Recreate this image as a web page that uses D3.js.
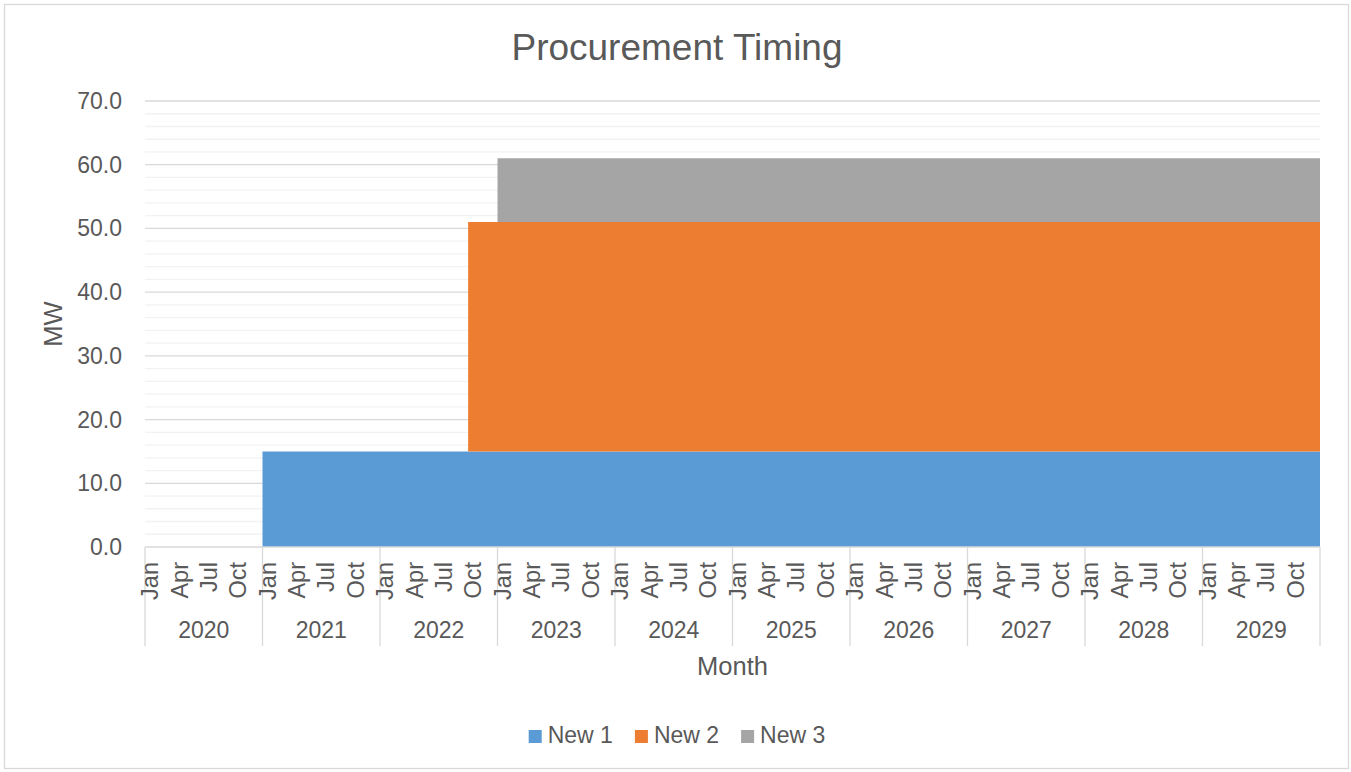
<!DOCTYPE html>
<html lang="en">
<head>
  <meta charset="UTF-8" />
  <title>Procurement Timing</title>
  <script src="https://d3js.org/d3.v7.min.js"></script>
  <style>
    body { margin: 0; background: #fff; }
    text { font-family: "Liberation Sans", Arial, sans-serif; fill: #595959; }
  </style>
</head>
<body>
  <div id="chart"></div>
  <script>
    // data
    const years = [2020, 2021, 2022, 2023, 2024, 2025, 2026, 2027, 2028, 2029];
    const monthNames = ["Jan", "Feb", "Mar", "Apr", "May", "Jun", "Jul", "Aug", "Sep", "Oct", "Nov", "Dec"];
    const shownMonths = ["Jan", "Apr", "Jul", "Oct"];
    const seriesNames = ["New 1", "New 2", "New 3"];
    const seriesStart = ["2021-Jan", "2022-Oct", "2023-Jan"];
    const seriesMW = [15, 36, 10];
    const colors = ["#5b9bd5", "#ed7d31", "#a5a5a5"];
    const yTicks = [0, 10, 20, 30, 40, 50, 60, 70];

    const width = 1351, height = 772;
    const margin = { left: 145, right: 1320, top: 101, bottom: 547 };

    const months = [];
    years.forEach(y => monthNames.forEach(m => months.push(y + "-" + m)));

    // monthly table: each series holds its MW from its start month on
    const rows = months.map((key, i) => {
      const row = { key: key, i: i };
      seriesNames.forEach((s, j) => { row[s] = i >= months.indexOf(seriesStart[j]) ? seriesMW[j] : 0; });
      return row;
    });
    // closing point so the last month is drawn to the edge
    rows.push(Object.assign({}, rows[rows.length - 1], { key: "end", i: months.length }));

    const svg = d3.select("#chart").append("svg").attr("width", width).attr("height", height);

    svg.append("rect").attr("x", 4.5).attr("y", 4.5).attr("width", 1344).attr("height", 764)
      .attr("fill", "#fff").attr("stroke", "#d9d9d9").attr("stroke-width", 1.3);

    const x = d3.scaleBand().domain(months).range([margin.left, margin.right]).padding(0);
    const xi = d3.scaleLinear().domain([0, months.length]).range([margin.left, margin.right]);
    const y = d3.scaleLinear().domain([0, 70]).range([margin.bottom, margin.top]);

    // minor gridlines
    svg.append("g").selectAll("line")
      .data(d3.range(0, 71, 2).filter(v => v % 10 !== 0))
      .enter().append("line")
      .attr("x1", margin.left).attr("x2", margin.right)
      .attr("y1", d => y(d)).attr("y2", d => y(d))
      .attr("stroke", "#f2f2f2").attr("stroke-width", 1.3);

    // major gridlines
    svg.append("g").selectAll("line")
      .data(yTicks.slice(1))
      .enter().append("line")
      .attr("x1", margin.left).attr("x2", margin.right)
      .attr("y1", d => y(d)).attr("y2", d => y(d))
      .attr("stroke", "#d9d9d9").attr("stroke-width", 1.3);

    const stack = d3.stack().keys(seriesNames)(rows);
    const area = d3.area()
      .curve(d3.curveStepAfter)
      .x(d => xi(d.data.i))
      .y0(d => y(d[0]))
      .y1(d => y(d[1]));

    svg.append("g").selectAll("path")
      .data(stack)
      .enter().append("path")
      .attr("fill", (d, i) => colors[i])
      .attr("d", area);

    // y tick labels
    svg.append("g").selectAll("text")
      .data(yTicks)
      .enter().append("text")
      .attr("x", 122).attr("y", d => y(d)).attr("dy", "0.35em")
      .attr("text-anchor", "end").style("font-size", "23px")
      .text(d => d.toFixed(1));

    // x axis line
    svg.append("line").attr("x1", margin.left).attr("x2", margin.right)
      .attr("y1", margin.bottom).attr("y2", margin.bottom)
      .attr("stroke", "#d9d9d9").attr("stroke-width", 1.3);

    // year separators
    const yearEdges = years.map(yr => x(yr + "-Jan")).concat([margin.right]);
    svg.append("g").selectAll("line")
      .data(yearEdges)
      .enter().append("line")
      .attr("x1", d => d).attr("x2", d => d)
      .attr("y1", margin.bottom).attr("y2", 646)
      .attr("stroke", "#d9d9d9").attr("stroke-width", 1.3);

    // month labels
    svg.append("g").selectAll("text")
      .data(months.filter(m => shownMonths.includes(m.split("-")[1])))
      .enter().append("text")
      .attr("transform", d => `translate(${x(d) + x.bandwidth() / 2},562) rotate(-90)`)
      .attr("dy", "0.35em").attr("text-anchor", "end").style("font-size", "23.5px")
      .text(d => d.split("-")[1]);

    // year labels
    svg.append("g").selectAll("text")
      .data(years)
      .enter().append("text")
      .attr("x", d => x(d + "-Jan") + x.bandwidth() * 6)
      .attr("y", 638).attr("text-anchor", "middle").style("font-size", "23px")
      .text(d => d);

    // titles
    svg.append("text").attr("x", 677).attr("y", 60).attr("text-anchor", "middle")
      .style("font-size", "37px").text("Procurement Timing");
    svg.append("text").attr("x", (margin.left + margin.right) / 2).attr("y", 675)
      .attr("text-anchor", "middle").style("font-size", "25.5px").text("Month");
    svg.append("text").attr("transform", `translate(53,${(margin.top + margin.bottom) / 2}) rotate(-90)`)
      .attr("dy", "0.35em").attr("text-anchor", "middle").style("font-size", "25.5px").text("MW");

    // legend
    const legend = svg.append("g");
    const items = legend.selectAll("g").data(seriesNames).enter().append("g");
    items.append("rect").attr("width", 13).attr("height", 13).attr("y", 730)
      .attr("fill", (d, i) => colors[i]);
    items.append("text").attr("x", 19).attr("y", 743).style("font-size", "23px").text(d => d);
    let lx = 0;
    const offsets = [];
    items.each(function () {
      offsets.push(lx);
      lx += this.getBBox().width + 22;
    });
    const legendStart = 677 - (lx - 22) / 2;
    items.attr("transform", (d, i) => `translate(${legendStart + offsets[i]},0)`);
  </script>
</body>
</html>
